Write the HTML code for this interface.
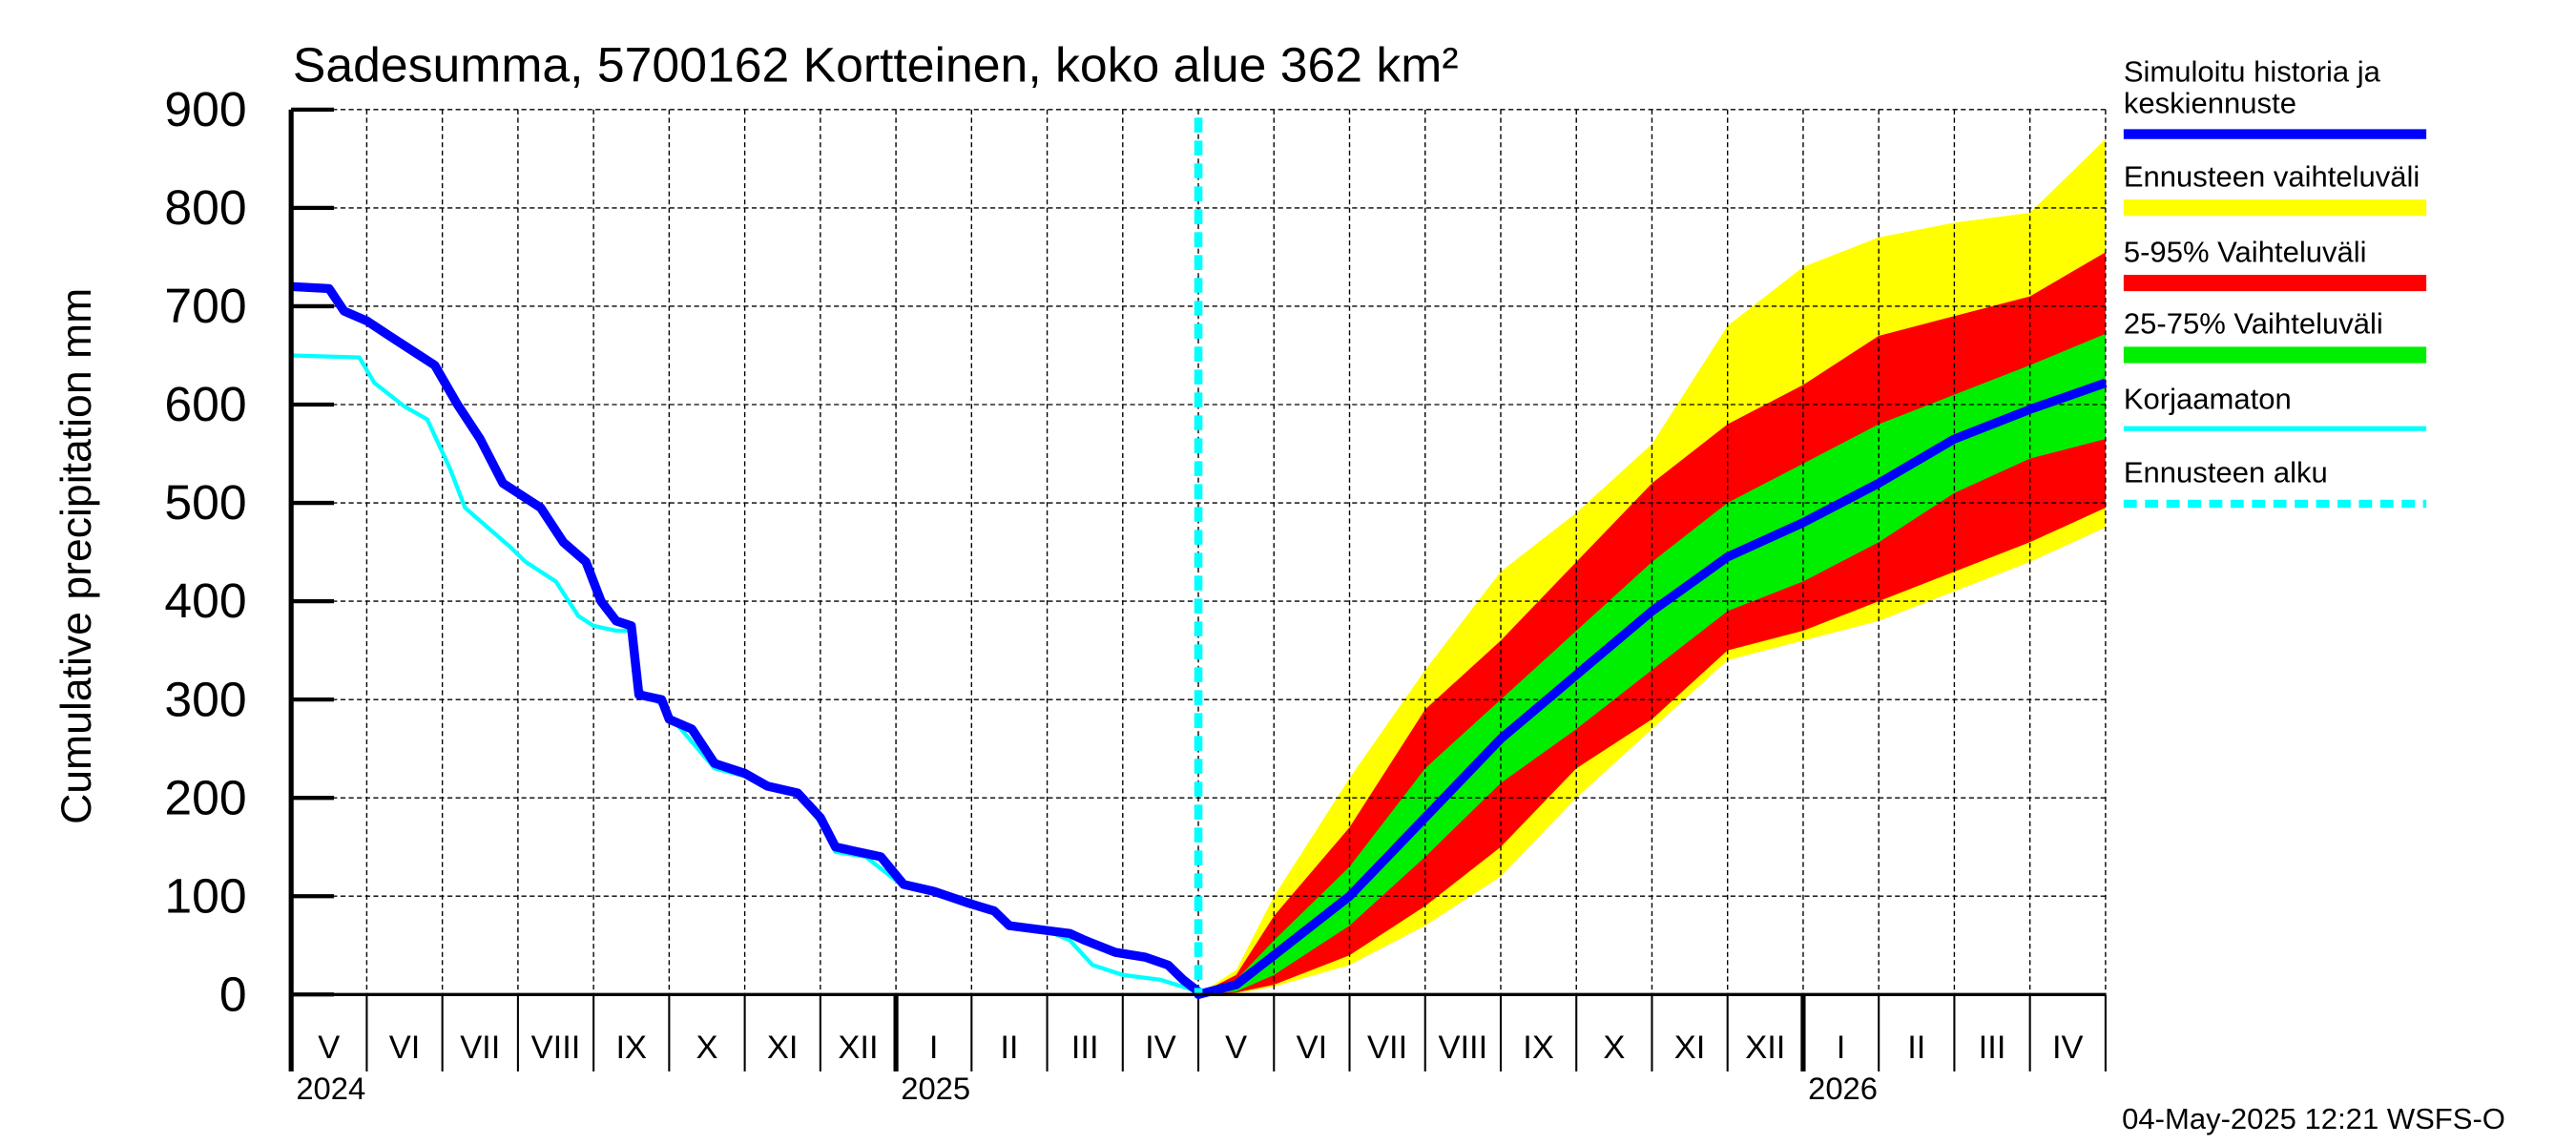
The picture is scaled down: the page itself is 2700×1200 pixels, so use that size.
<!DOCTYPE html>
<html><head><meta charset="utf-8"><style>
html,body{margin:0;padding:0;background:#fff;}
svg{display:block;font-family:"Liberation Sans",sans-serif;}
</style></head><body>
<svg id="chart" width="2700" height="1200" viewBox="0 0 1566 700" preserveAspectRatio="none" xmlns="http://www.w3.org/2000/svg">
<rect width="1566" height="700" fill="#fff"/>
<g id="bands"></g><g id="grid"></g><g id="lines"></g><g id="axes"></g>
<text x="178" y="50" font-size="30">Sadesumma, 5700162 Kortteinen, koko alue 362 km²</text>
<text transform="translate(55,340) rotate(-90)" text-anchor="middle" font-size="26">Cumulative precipitation   mm</text>
<g font-size="18">
<text x="1291" y="50">Simuloitu historia ja</text><text x="1291" y="69">keskiennuste</text>
<line x1="1291" x2="1475" y1="82" y2="82" stroke="#0000ff" stroke-width="6"/>
<text x="1291" y="114">Ennusteen vaihteluväli</text>
<line x1="1291" x2="1475" y1="127" y2="127" stroke="#ffff00" stroke-width="10"/>
<text x="1291" y="160">5-95% Vaihteluväli</text>
<line x1="1291" x2="1475" y1="173" y2="173" stroke="#ff0000" stroke-width="10"/>
<text x="1291" y="204">25-75% Vaihteluväli</text>
<line x1="1291" x2="1475" y1="217" y2="217" stroke="#00ee00" stroke-width="10"/>
<text x="1291" y="250">Korjaamaton</text>
<line x1="1291" x2="1475" y1="262" y2="262" stroke="#00ffff" stroke-width="3"/>
<text x="1291" y="295">Ennusteen alku</text>
<line x1="1291" x2="1475" y1="308" y2="308" stroke="#00ffff" stroke-width="5" stroke-dasharray="8,5"/>
</g>
<text x="1290" y="690" font-size="18">04-May-2025 12:21 WSFS-O</text>
</svg>
<script>
const monthLabels=["V","VI","VII","VIII","IX","X","XI","XII","I","II","III","IV","V","VI","VII","VIII","IX","X","XI","XII","I","II","III","IV"];
const yTicks=[0,100,200,300,400,500,600,700,800,900];
const histT=[0,0.5,0.7,1,1.3,1.6,1.9,2.2,2.5,2.8,3.1,3.3,3.6,3.9,4.1,4.3,4.5,4.6,4.9,5.0,5.3,5.6,6.0,6.3,6.7,7.0,7.2,7.5,7.8,8.1,8.5,9.0,9.3,9.5,10,10.3,10.5,10.9,11.3,11.6,11.8,12.0];
const histV=[720,718,695,685,670,655,640,600,565,520,505,495,460,440,400,380,375,305,300,280,270,235,225,212,205,180,150,145,140,112,105,92,85,70,65,62,55,43,38,30,15,3];
const corrT=[0,0.9,1.1,1.5,1.8,2.1,2.3,2.6,2.9,3.1,3.5,3.8,4.0,4.3,4.5,4.6,4.9,5.1,5.6,6.0,6.3,6.7,7.0,7.2,7.6,8.1,8.5,9.0,9.3,9.5,10.0,10.3,10.6,11.0,11.5,12.0];
const corrV=[650,648,622,598,585,535,495,475,455,440,420,385,375,370,370,310,295,275,230,222,210,205,175,145,140,110,105,95,85,70,65,55,30,20,15,3];
const fT=[12,12.5,13,14,15,16,17,18,19,20,21,22,23,24];
const medV=[0,10,40,100,180,260,325,390,445,480,520,565,595,622];
const p25=[0,3,20,70,140,215,270,330,390,420,460,510,545,565];
const p75=[0,15,55,130,230,300,370,440,500,540,580,610,640,672];
const p5=[0,2,10,40,90,150,230,280,350,370,400,430,460,495];
const p95=[0,20,80,170,290,360,440,520,580,620,670,690,710,755];
const pMin=[0,1,8,30,70,120,200,270,340,360,380,410,440,475];
const pMax=[0,25,100,220,330,430,490,560,680,740,770,785,795,870];
const forecastStart=12.0;
const X0=177,X1=1280,Y0=608,YT=67;
const xs=t=>X0+(X1-X0)*t/24, ys=v=>Y0-(Y0-YT)*v/900;
const NS="http://www.w3.org/2000/svg";
function mk(tag,attrs,parent){const e=document.createElementNS(NS,tag);for(const k in attrs)e.setAttribute(k,attrs[k]);parent.appendChild(e);return e;}
const pts=(T,V)=>T.map((t,i)=>xs(t).toFixed(1)+","+ys(V[i]).toFixed(1));
function band(lo,hi,col,name){const p=pts(fT,hi).concat(pts(fT,lo).reverse());const e=mk('polygon',{points:p.join(' '),fill:col},document.getElementById('bands'));

}
band(pMin,pMax,'#ffff00','band-min-max');band(p5,p95,'#ff0000','band-5-95');band(p25,p75,'#00ee00','band-25-75');
const g=document.getElementById('grid');
yTicks.forEach(v=>{const l=mk('line',{x1:X0,x2:X1,y1:ys(v),y2:ys(v),stroke:'#000','stroke-width':0.8,'stroke-dasharray':'3,2'},g);


const tk=mk('line',{x1:X0,x2:X0+26,y1:ys(v),y2:ys(v),stroke:'#000','stroke-width':2.5},g);


const t=mk('text',{x:150,y:ys(v)+10,'text-anchor':'end','font-size':30},g);t.textContent=v;

});
for(let m=1;m<=24;m++){const l=mk('line',{x1:xs(m),x2:xs(m),y1:YT,y2:Y0,stroke:'#000','stroke-width':0.8,'stroke-dasharray':'3,2'},g);


const yr=(m===8||m===20);const tk=mk('line',{x1:xs(m),x2:xs(m),y1:Y0,y2:655,stroke:'#000','stroke-width':yr?3:1.2},g);

}
monthLabels.forEach((s,i)=>{const t=mk('text',{x:xs(i+0.5),y:647,'text-anchor':'middle','font-size':20},g);t.textContent=s;

});
[["2024",0],["2025",8],["2026",20]].forEach(([s,m])=>{const t=mk('text',{x:xs(m)+3,y:672,'font-size':19},g);t.textContent=s;

});
const L=document.getElementById('lines');
const c=mk('polyline',{points:pts(corrT,corrV).join(' '),fill:'none',stroke:'#00ffff','stroke-width':2.5},L);


const h=mk('polyline',{points:pts(histT,histV).concat(pts(fT,medV)).join(' '),fill:'none',stroke:'#0000ff','stroke-width':5.5,'stroke-linejoin':'round'},L);


const fs=mk('line',{x1:xs(forecastStart),x2:xs(forecastStart),y1:72,y2:Y0,stroke:'#00ffff','stroke-width':5,'stroke-dasharray':'9,5'},L);


const A=document.getElementById('axes');
const ya=mk('line',{x1:X0,x2:X0,y1:YT,y2:655,stroke:'#000','stroke-width':3},A);


const xa=mk('line',{x1:X0,x2:X1,y1:Y0,y2:Y0,stroke:'#000','stroke-width':2},A);


</script>
</body></html>
